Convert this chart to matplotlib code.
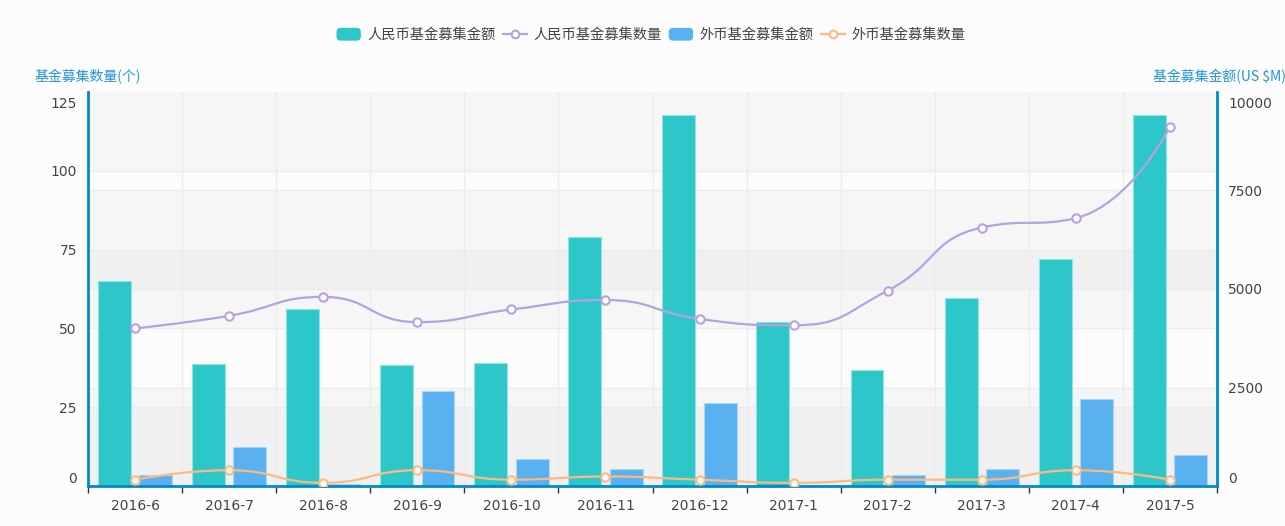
import numpy as np
import matplotlib
matplotlib.use("Agg")
import matplotlib.pyplot as plt
import matplotlib.transforms as mtransforms
from matplotlib.path import Path
from matplotlib.patches import PathPatch, FancyBboxPatch, Patch
from matplotlib.lines import Line2D
from matplotlib.legend_handler import HandlerPatch

plt.rcParams['font.family'] = ['Noto Sans CJK SC', 'DejaVu Sans']

# data
months = ['2016-6', '2016-7', '2016-8', '2016-9', '2016-10', '2016-11',
          '2016-12', '2017-1', '2017-2', '2017-3', '2017-4', '2017-5']
rmb_amount = [5210, 3100, 4480, 3060, 3130, 6330, 9420, 4160, 2950, 4780, 5765, 9410]
fx_amount = [270, 980, 50, 2410, 675, 420, 2100, 0, 270, 440, 2200, 795]
rmb_count = [50, 54, 60, 52, 56, 59, 53, 51, 62, 82, 85, 114]
fx_count = [2, 5, 1, 5, 2, 3, 2, 1, 2, 2, 5, 2]
count_ticks = [0, 25, 50, 75, 100, 125]
amount_ticks = [0, 2500, 5000, 7500, 10000]
labels = ['人民币基金募集金额', '人民币基金募集数量', '外币基金募集金额', '外币基金募集数量']

C_RMB, C_FX = '#2ec7c9', '#5ab1ef'
C_RMB_L, C_FX_L = '#b6a2de', '#ffb980'
AXIS = '#008acd'
NAME = '#2196d6'
TXT = '#444444'

W, H = 1285, 526
fig = plt.figure(figsize=(W / 100, H / 100), dpi=100, facecolor='#fcfcfc')
L, R, T, B = 88, 1217, 92, 486
ax = fig.add_axes([L / W, (H - B) / H, (R - L) / W, (B - T) / H])
ax.set_facecolor('#fcfcfc')
ax2 = ax.twinx()

x = np.arange(len(months))
ax.set_xlim(-0.5, len(months) - 0.5)
ax.set_ylim(amount_ticks[0], amount_ticks[-1])
ax2.set_ylim(count_ticks[0], count_ticks[-1])
ratio = amount_ticks[-1] / count_ticks[-1]

# split areas of both axes
for k in range(len(count_ticks) - 1):
    if k % 2 == 0:
        ax.axhspan(count_ticks[k] * ratio, count_ticks[k + 1] * ratio, color='black', alpha=0.022, lw=0, zorder=0)
for k in range(len(amount_ticks) - 1):
    if k % 2 == 0:
        ax.axhspan(amount_ticks[k], amount_ticks[k + 1], color='black', alpha=0.022, lw=0, zorder=0)
for v in count_ticks[1:-1]:
    ax.axhline(v * ratio, color='#ececec', lw=1, zorder=0.5)
for v in amount_ticks[1:-1]:
    ax.axhline(v, color='#ececec', lw=1, zorder=0.5)
for b in np.arange(0.5, len(months) - 0.5):
    ax.axvline(b, color='#ececec', lw=1, zorder=0.5)

# bars
bw = 0.35
ax.bar(x - 0.22, rmb_amount, bw, color=C_RMB, edgecolor='#8fe3e4', lw=0.8, zorder=2)
ax.bar(x + 0.22, fx_amount, bw, color=C_FX, edgecolor='#a8d6f7', lw=0.8, zorder=2)


def smooth_path(axis, xs, ys, smooth=0.5):
    # echarts-style smoothing, computed in pixel space
    p = axis.transData.transform(np.column_stack([xs, ys]))
    n = len(p)
    verts = [tuple(p[0])]
    codes = [Path.MOVETO]
    cp0 = p[0].copy()
    for i in range(1, n):
        cur, prev = p[i], p[i - 1]
        if i < n - 1:
            nxt = p[i + 1]
            v = nxt - prev
            lp = np.hypot(*(cur - prev))
            ln = np.hypot(*(nxt - cur))
            r = ln / (ln + lp)
            ncp = cur + v * smooth * r
            ncp = np.clip(ncp, np.minimum(cur, nxt), np.maximum(cur, nxt))
            v = ncp - cur
            cp1 = cur - v * lp / ln
            cp1 = np.clip(cp1, np.minimum(prev, cur), np.maximum(prev, cur))
            v = cur - cp1
            ncp = cur + v * ln / lp
        else:
            cp1 = cur.copy()
            ncp = cur.copy()
        verts += [tuple(cp0), tuple(cp1), tuple(cur)]
        codes += [Path.CURVE4] * 3
        cp0 = ncp
    verts = axis.transData.inverted().transform(np.array(verts))
    return Path(verts, codes)


for ys, c in [(rmb_count, C_RMB_L), (fx_count, C_FX_L)]:
    ax2.add_patch(PathPatch(smooth_path(ax2, x, ys), fill=False, edgecolor=c, lw=1.6, zorder=3))
    ax2.plot(x, ys, 'o', ms=6, mfc='white', mec=c, mew=1.5, zorder=4)

# axes styling
for a in (ax, ax2):
    for s in a.spines.values():
        s.set_visible(False)
ax.spines['bottom'].set_visible(True)
ax.spines['bottom'].set_color(AXIS)
ax.spines['bottom'].set_linewidth(2)
ax.spines['right'].set_visible(True)
ax.spines['right'].set_color(AXIS)
ax.spines['right'].set_linewidth(2)
ax2.spines['left'].set_visible(True)
ax2.spines['left'].set_color(AXIS)
ax2.spines['left'].set_linewidth(2)

ax.yaxis.tick_right()
ax2.yaxis.tick_left()
ax.set_xticks(x)
ax.set_xticklabels(months, fontfamily='DejaVu Sans')
ax.set_xticks(np.arange(-0.5, len(months)), minor=True)
ax.tick_params(axis='x', which='major', length=0, pad=9, labelsize=10, labelcolor=TXT)
ax.tick_params(axis='x', which='minor', length=5, width=1, color='#333333')

ax.set_yticks(amount_ticks)
ax.set_yticklabels([str(v) for v in amount_ticks], fontfamily='DejaVu Sans')
ax.tick_params(axis='y', length=0, pad=8, labelsize=10, labelcolor=TXT)
ax2.set_yticks(count_ticks)
ax2.set_yticklabels([str(v) for v in count_ticks], fontfamily='DejaVu Sans')
ax2.tick_params(axis='y', length=0, pad=8, labelsize=10, labelcolor=TXT)
shift = mtransforms.ScaledTranslation(0, -5 / 100, fig.dpi_scale_trans)
for a in (ax, ax2):
    tl = a.get_yticklabels()
    tl[0].set_va('bottom')
    tl[-1].set_va('top')
    tl[-1].set_transform(tl[-1].get_transform() + shift)

fig.text(L / W, 1 - 77 / H, '基金募集数量(个)', color=NAME, fontsize=10, ha='center', va='center')
fig.text(R / W + 0.002, 1 - 77 / H, '基金募集金额(US $M)', color=NAME, fontsize=10, ha='center', va='center')


def round_rect(legend, orig_handle, xdescent, ydescent, width, height, fontsize):
    return FancyBboxPatch((-xdescent, -ydescent), width, height,
                          boxstyle='round,pad=0,rounding_size=3',
                          facecolor=orig_handle.get_facecolor(), edgecolor='none')


handles = [
    Patch(facecolor=C_RMB),
    Line2D([], [], color=C_RMB_L, lw=1.6, marker='o', ms=5.5, mfc='white', mec=C_RMB_L, mew=1.5),
    Patch(facecolor=C_FX),
    Line2D([], [], color=C_FX_L, lw=1.6, marker='o', ms=5.5, mfc='white', mec=C_FX_L, mew=1.5),
]
fig.legend(handles, labels, loc='center', bbox_to_anchor=(651 / W, 1 - 35 / H), ncol=4,
           frameon=False, fontsize=10.3, labelcolor=TXT, handlelength=1.7, handleheight=1.0,
           handletextpad=0.45, columnspacing=0.5, numpoints=1,
           handler_map={Patch: HandlerPatch(patch_func=round_rect)})

fig.savefig('out.png', dpi=100, facecolor=fig.get_facecolor())
